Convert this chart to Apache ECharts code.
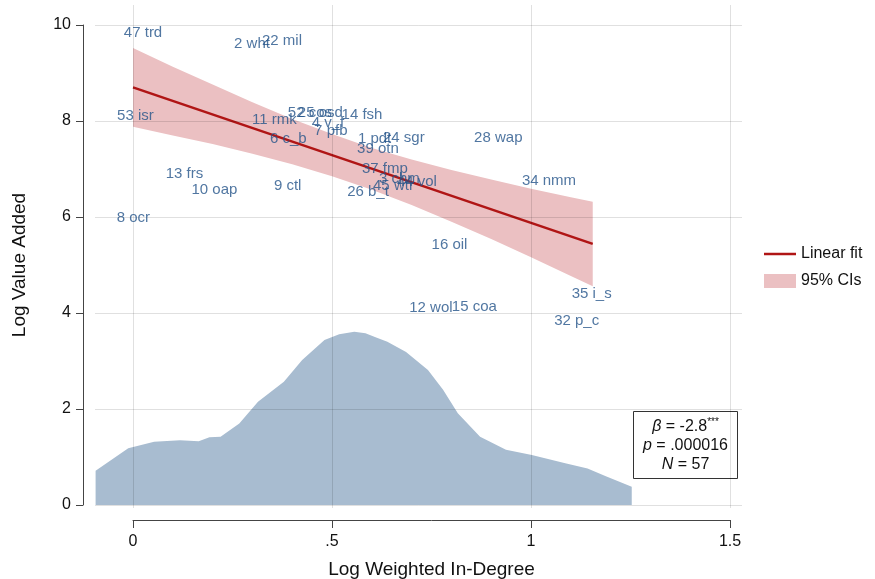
<!DOCTYPE html>
<html>
<head>
    <meta charset="utf-8">
    <title>Log Value Added vs Log Weighted In-Degree</title>
    <script src="https://cdn.jsdelivr.net/npm/echarts@6.0.0/dist/echarts.min.js"></script>
    <style>
        body { margin: 0; background: #fff; }
        #chart { width: 875px; height: 579px; }
    </style>
</head>
<body>
<div id="chart"></div>
<script>
    // sector labels and their positions (x = log weighted in-degree, y = log value added)
    var sectorNames = ['47 trd', '2 wht', '22 mil', '53 isr', '11 rmk', '52 cos', '25 osd', '14 fsh',
        '4 v_f', '7 pfb', '6 c_b', '1 pdt', '24 sgr', '39 otn', '28 wap', '37 fmp', '3 chm', '44 vol',
        '45 wtr', '26 b_t', '34 nmm', '13 frs', '10 oap', '9 ctl', '8 ocr', '16 oil', '35 i_s',
        '12 wol', '15 coa', '32 p_c'];
    var inDegree = [-0.023, 0.254, 0.324, -0.040, 0.299, 0.389, 0.414, 0.524,
        0.449, 0.455, 0.344, 0.565, 0.628, 0.563, 0.857, 0.575, 0.618, 0.663,
        0.603, 0.538, 0.977, 0.082, 0.147, 0.354, -0.041, 0.750, 1.102,
        0.694, 0.801, 1.058];
    var valueAdded = [9.84, 9.60, 9.68, 8.10, 8.03, 8.18, 8.18, 8.12,
        7.96, 7.80, 7.62, 7.62, 7.64, 7.43, 7.64, 7.01, 6.80, 6.74,
        6.64, 6.53, 6.76, 6.89, 6.57, 6.64, 5.98, 5.43, 4.39,
        4.10, 4.12, 3.845];

    // linear fit end points
    var fitX = [0, 1.155];
    var fitY = [8.70, 5.44];

    // 95% confidence band
    var bandX = [0, 0.1, 0.2, 0.3, 0.4, 0.5, 0.6, 0.7, 0.8, 0.9, 1.0, 1.1, 1.155];
    var bandUpper = [9.52, 9.13, 8.76, 8.39, 8.04, 7.73, 7.44, 7.20, 6.98, 6.78, 6.59, 6.41, 6.32];
    var bandLower = [7.88, 7.70, 7.52, 7.32, 7.10, 6.85, 6.57, 6.25, 5.90, 5.54, 5.16, 4.77, 4.56];

    // density of in-degree drawn along the bottom
    var densX = [-0.094, -0.012, 0.053, 0.118, 0.165, 0.192, 0.220, 0.267, 0.314, 0.379, 0.425, 0.481,
        0.518, 0.556, 0.584, 0.611, 0.639, 0.686, 0.741, 0.779, 0.816, 0.872, 0.937, 1.002,
        1.086, 1.142, 1.188, 1.253];
    var densY = [0.715, 1.18, 1.32, 1.35, 1.33, 1.41, 1.42, 1.70, 2.15, 2.57, 3.02, 3.44,
        3.56, 3.61, 3.58, 3.49, 3.40, 3.19, 2.81, 2.40, 1.91, 1.42, 1.15, 1.04,
        0.87, 0.76, 0.60, 0.38];

    var xTicks = [0, 0.5, 1, 1.5];
    var yTicks = [0, 2, 4, 6, 8, 10];

    var fontFam = 'Liberation Sans, Arial, sans-serif';
    var labelColor = '#24548a';
    var fitColor = '#b01515';
    var bandColor = '#ebc0c2';
    var densColor = '#a8bcd0';

    var scatterData = sectorNames.map(function (n, i) {
        return { name: n, value: [inDegree[i], valueAdded[i]] };
    });
    var densData = densX.map(function (x, i) { return [x, densY[i]]; });
    var fitData = fitX.map(function (x, i) { return [x, fitY[i]]; });

    var gridMarks = [];
    xTicks.forEach(function (v) { gridMarks.push({ xAxis: v }); });
    yTicks.forEach(function (v) { gridMarks.push({ yAxis: v }); });

    var myChart = echarts.init(document.getElementById('chart'));
    myChart.setOption({
        animation: false,
        textStyle: { fontFamily: fontFam },
        grid: [
            { left: 95, right: 133, top: 5, bottom: 71, outerBoundsMode: 'none' },   // plot region
            { left: 133, right: 145, top: 5, bottom: 59, outerBoundsMode: 'none' },  // x axis
            { left: 83, right: 700, top: 25, bottom: 74, outerBoundsMode: 'none' }   // y axis
        ],
        xAxis: [
            { gridIndex: 0, type: 'value', min: -0.0955, max: 1.53, show: false },
            {
                gridIndex: 1, type: 'value', min: 0, max: 1.5, interval: 0.5,
                splitLine: { show: false },
                axisLine: { lineStyle: { color: '#444', width: 1 } },
                axisTick: { length: 8, lineStyle: { color: '#444' } },
                axisLabel: {
                    color: '#111', fontSize: 16, margin: 14,
                    formatter: function (v) { return v === 0 ? '0' : String(v).replace(/^0\./, '.'); }
                },
                name: 'Log Weighted In-Degree', nameLocation: 'middle', nameGap: 40,
                nameTextStyle: { color: '#111', fontSize: 19 }
            },
            { gridIndex: 2, type: 'value', show: false }
        ],
        yAxis: [
            { gridIndex: 0, type: 'value', min: -0.0625, max: 10.417, show: false },
            { gridIndex: 1, type: 'value', show: false },
            {
                gridIndex: 2, type: 'value', min: 0, max: 10, interval: 2,
                splitLine: { show: false },
                axisLine: { show: true, lineStyle: { color: '#444', width: 1 } },
                axisTick: { show: true, length: 7, lineStyle: { color: '#444' } },
                axisLabel: { color: '#111', fontSize: 16, margin: 12 },
                name: 'Log Value Added', nameLocation: 'middle', nameGap: 54, nameRotate: 90,
                nameTextStyle: { color: '#111', fontSize: 19 }
            }
        ],
        legend: {
            orient: 'vertical', left: 759, top: 241, itemGap: 11,
            itemWidth: 32, itemHeight: 14,
            textStyle: { fontSize: 16, color: '#111', fontFamily: fontFam },
            data: [
                { name: 'Linear fit', icon: 'path://M0,6 L32,6 L32,8.5 L0,8.5 Z' },
                { name: '95% CIs', icon: 'rect' }
            ]
        },
        graphic: [{
            type: 'group', left: 633, top: 411, z: 100,
            children: [
                { type: 'rect', shape: { x: 0, y: 0, width: 104, height: 67 },
                  style: { fill: '#fff', stroke: '#333', lineWidth: 1 } },
                { type: 'text', x: 52, y: 34,
                  style: {
                      text: '{i|β} = -2.8{s|***}\n{i|p} = .000016\n{i|N} = 57',
                      align: 'center', verticalAlign: 'middle', fontSize: 16, lineHeight: 19,
                      fill: '#111', fontFamily: fontFam,
                      rich: {
                          i: { fontStyle: 'italic', fontSize: 16, fontFamily: fontFam },
                          s: { fontSize: 10, verticalAlign: 'top', fontFamily: fontFam }
                      }
                  } }
            ]
        }],
        series: [
            {
                name: '95% CIs', type: 'custom', xAxisIndex: 0, yAxisIndex: 0, z: 2,
                itemStyle: { color: bandColor },
                data: [[0, 0]],
                renderItem: function (params, api) {
                    var pts = [];
                    for (var i = 0; i < bandX.length; i++) pts.push(api.coord([bandX[i], bandUpper[i]]));
                    for (var j = bandX.length - 1; j >= 0; j--) pts.push(api.coord([bandX[j], bandLower[j]]));
                    return { type: 'polygon', shape: { points: pts }, style: { fill: bandColor } };
                }
            },
            {
                name: 'density', type: 'line', xAxisIndex: 0, yAxisIndex: 0, z: 2,
                data: densData, symbol: 'none', smooth: false,
                lineStyle: { width: 0 }, itemStyle: { color: densColor },
                areaStyle: { color: densColor, opacity: 1 }
            },
            {
                name: 'grid', type: 'line', xAxisIndex: 0, yAxisIndex: 0, z: 3,
                data: [], silent: true,
                markLine: {
                    silent: true, symbol: ['none', 'none'], label: { show: false },
                    lineStyle: { color: 'rgba(0,0,0,0.12)', type: 'solid', width: 1 },
                    data: gridMarks
                }
            },
            {
                name: 'Linear fit', type: 'line', xAxisIndex: 0, yAxisIndex: 0, z: 4,
                data: fitData, symbol: 'none',
                lineStyle: { color: fitColor, width: 2.5 }, itemStyle: { color: fitColor }
            },
            {
                name: 'sectors', type: 'scatter', xAxisIndex: 0, yAxisIndex: 0, z: 5,
                data: scatterData, symbolSize: 0,
                label: {
                    show: true, position: 'right', distance: 0,
                    formatter: '{b}', color: labelColor, fontSize: 15, fontFamily: fontFam
                }
            }
        ]
    });
</script>
</body>
</html>
